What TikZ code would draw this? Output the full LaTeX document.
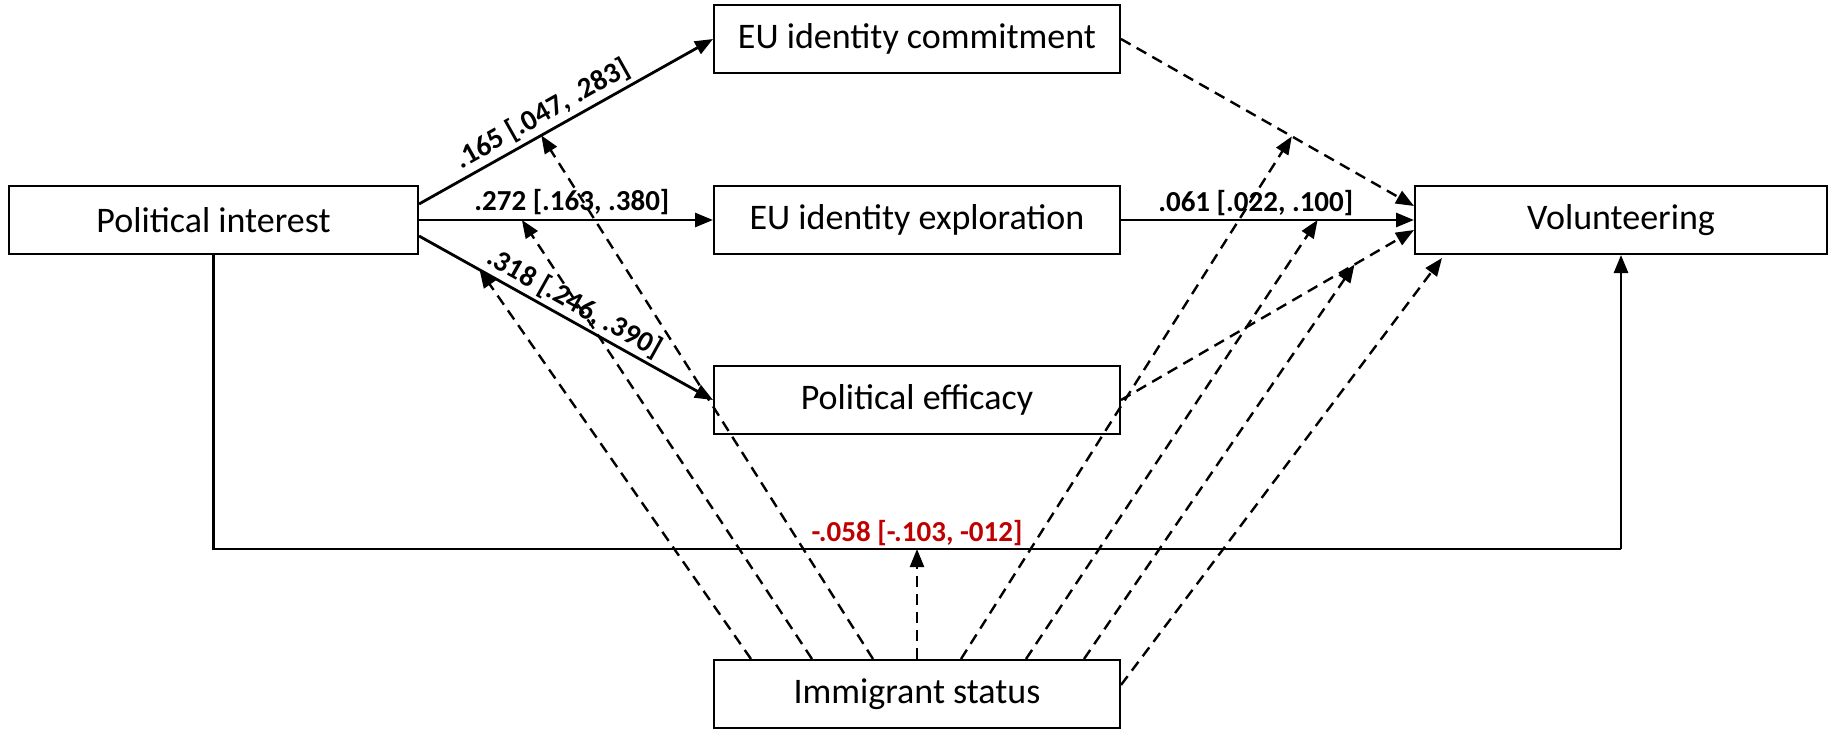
\documentclass[tikz,border=0pt]{standalone}
\usepackage{fontspec}
\setmainfont{Carlito}
\usetikzlibrary{arrows.meta,calc}
\definecolor{labred}{RGB}{192,0,0}
\begin{document}
\begin{tikzpicture}[x=1pt,y=-1pt,
  box/.style={draw, line width=2pt, minimum width=406pt, minimum height=68pt, inner sep=0pt, font=\fontsize{36}{40}\selectfont},
  solidarr/.style={line width=2.8pt, -{Triangle[length=18pt,width=14pt]}},
  dasharr/.style={line width=2.4pt, dash pattern=on 11pt off 7pt, -{Triangle[length=18pt,width=14pt]}},
  solidline/.style={line width=2.8pt},
  lab/.style={font=\bfseries\fontsize{29}{32}\selectfont, inner sep=4pt}]
\useasboundingbox (0,0) rectangle (1829,730);
\node[box, minimum width=409pt] (pi) at (213.5,220) {Political interest};
\node[box] (eucom) at (917,39) {EU identity commitment};
\node[box] (euexp) at (917,220) {EU identity exploration};
\node[box] (pe) at (917,400) {Political efficacy};
\node[box, minimum width=412pt] (vol) at (1621,220) {Volunteering};
\node[box] (imm) at (917,694) {Immigrant status};
% solid paths from political interest
\draw[solidarr] ($(pi.east)+(0,-16)$) -- coordinate[pos=0.416] (t1)
  node[lab, sloped, above, pos=0.45] {.165 [.047, .283]} (eucom.west);
\draw[solidarr] (pi.east) -- coordinate[pos=0.35] (t2)
  node[lab, above, pos=0.52] {.272 [.163, .380]} (euexp.west);
\draw[solidarr] ($(pi.east)+(0,16)$) -- coordinate[pos=0.206] (t3)
  node[lab, sloped, above, pos=0.5, inner sep=3pt] {.318 [.246, .390]} (pe.west);
% paths to volunteering
\draw[dasharr] (eucom.east) -- coordinate[pos=0.583] (t4) ($(vol.west)+(0,-14)$);
\draw[solidarr] (euexp.east) -- coordinate[pos=0.671] (t5)
  node[lab, above, pos=0.46, inner sep=3pt] {.061 [.022, .100]} (vol.west);
\draw[dasharr] (pe.east) -- coordinate[pos=0.797] (t6) ($(vol.west)+(0,10)$);
% direct path
\coordinate (bl) at ($(pi.south)+(0,294)$);
\coordinate (br) at (vol.south |- bl);
\coordinate (bm) at (imm.north |- bl);
\draw[solidline] (pi.south) -- (bl) -- (br);
\draw[solidarr] (br) -- (vol.south);
\node[lab, text=labred, anchor=south, inner sep=3pt] (redlab) at (bm) {-.058 [-.103, -012]};
% moderation paths from immigrant status
\draw[dasharr] ($(imm.north west)+(38,0)$) -- (t3);
\draw[dasharr] ($(imm.north west)+(99,0)$) -- (t2);
\draw[dasharr] ($(imm.north west)+(160,0)$) -- (t1);
\draw[dasharr] (imm.north) -- (bm);
\draw[dasharr] ($(imm.north west)+(248,0)$) -- (t4);
\draw[dasharr] ($(imm.north west)+(313,0)$) -- (t5);
\draw[dasharr] ($(imm.north west)+(371,0)$) -- (t6);
\draw[dasharr] ($(imm.east)+(0,-9)$) -- ($(vol.south west)+(28,3)$);
\end{tikzpicture}
\end{document}
